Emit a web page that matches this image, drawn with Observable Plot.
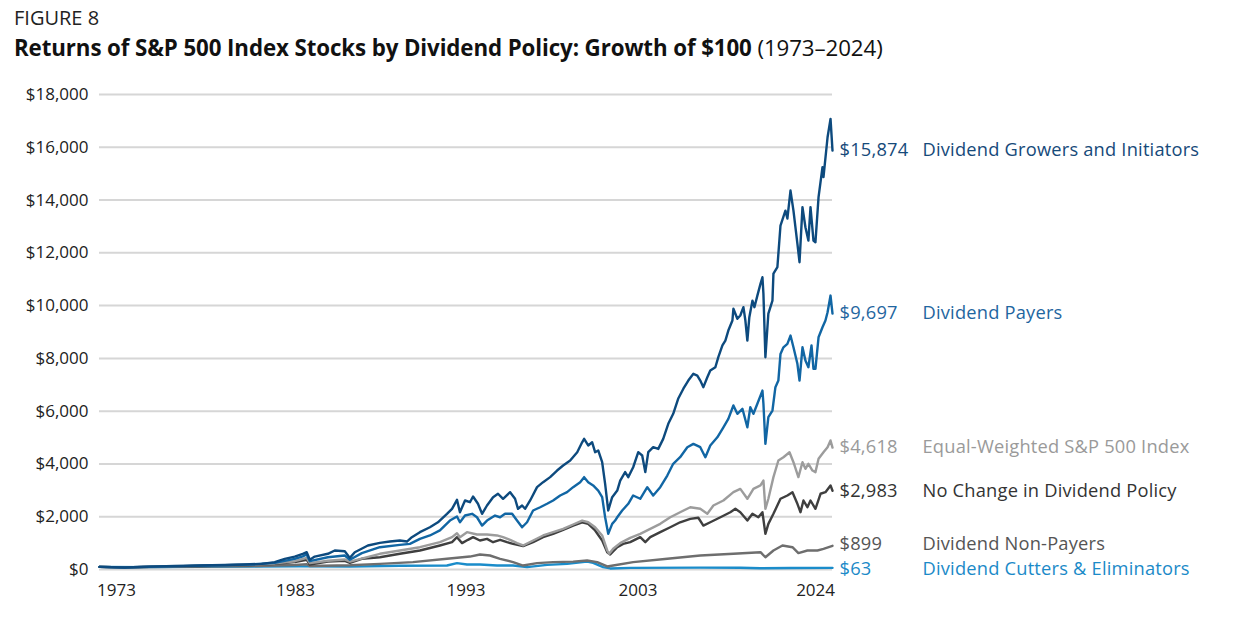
<!DOCTYPE html>
<html><head><meta charset="utf-8">
<script src="https://cdn.jsdelivr.net/npm/d3@7"></script>
<script src="https://cdn.jsdelivr.net/npm/@observablehq/plot@0.6"></script>
<style>
html,body{margin:0;padding:0;background:#fff;}
body{font-family:"Open Sans",sans-serif;width:1236px;height:617px;overflow:hidden;position:relative;}
#fig{position:absolute;left:14px;top:4px;font-size:20px;color:#222;white-space:nowrap;}
#title{position:absolute;left:14px;top:32px;font-size:22.3px;color:#111;white-space:nowrap;letter-spacing:-0.1px;}
#title b{font-weight:700;}
#chart{position:absolute;left:0;top:70px;}
#chart g[aria-label="text"] text{letter-spacing:0.2px;}
</style></head><body>
<div id="fig">FIGURE 8</div>
<div id="title"><b>Returns of S&amp;P 500 Index Stocks by Dividend Policy: Growth of $100</b> (1973–2024)</div>
<div id="chart"></div>
<script>
// ---- data ----
const seriesNames = ["Dividend Growers and Initiators","Dividend Payers","Equal-Weighted S&P 500 Index","No Change in Dividend Policy","Dividend Non-Payers","Dividend Cutters & Eliminators"];
const finalValues = [15874, 9697, 4618, 2983, 899, 63];
const yTicks = [0,2000,4000,6000,8000,10000,12000,14000,16000,18000];
const xTickLabels = ["1973","1983","1993","2003","2024"];
const xTickAt = [1974.2, 1986.9, 1999.0, 2011.2, 2023.8];

const growersYears = [1973.00,1974.78,1976.55,1978.33,1980.10,1981.88,1983.66,1984.51,1985.43,1986.14,1986.85,1987.42,1987.70,1987.92,1988.27,1989.20,1989.69,1990.40,1990.76,1991.11,1992.04,1992.89,1993.60,1994.31,1994.81,1995.16,1995.73,1996.44,1997.01,1997.65,1998.01,1998.36,1998.57,1998.93,1999.28,1999.50,1999.85,2000.14,2000.49,2000.92,2001.27,2001.63,2002.13,2002.48,2002.69,2002.98,2003.19,2003.55,2004.04,2004.47,2004.97,2005.46,2005.89,2006.39,2006.89,2007.24,2007.38,2007.67,2007.95,2008.16,2008.38,2008.66,2008.87,2009.09,2009.37,2009.73,2009.94,2010.29,2010.51,2010.86,2011.22,2011.50,2011.72,2011.93,2012.28,2012.64,2012.99,2013.35,2013.70,2014.05,2014.42,2014.77,2015.13,2015.41,2015.62,2015.84,2016.12,2016.33,2016.69,2016.90,2017.19,2017.40,2017.61,2017.90,2017.97,2018.25,2018.46,2018.68,2018.82,2018.96,2019.10,2019.32,2019.46,2019.67,2019.89,2020.03,2020.10,2020.24,2020.45,2020.74,2020.81,2021.09,2021.31,2021.66,2021.80,2022.02,2022.23,2022.51,2022.66,2022.87,2023.08,2023.29,2023.44,2023.65,2023.79,2024.01,2024.29,2024.36,2024.65,2024.86,2025.00];
const growersValues = [100,75,110,130,150,170,200,215,280,405,490,595,655,370,490,595,720,690,440,655,910,1010,1060,1100,1060,1225,1415,1600,1790,2110,2300,2640,2170,2615,2550,2765,2490,2110,2425,2740,2870,2680,2930,2680,2300,2425,2300,2615,3120,3310,3500,3750,3940,4130,4445,4820,4950,4700,4820,4445,4510,4065,3245,2235,2740,2990,3370,3690,3500,3875,4445,4320,3690,4445,4635,4570,4950,5520,5900,6470,6850,7160,7415,7350,7160,6910,7285,7540,7665,8045,8490,8675,9055,9435,9880,9500,9625,9940,9435,8675,9560,10190,9940,10380,10825,11075,10445,8045,9700,10190,11210,11455,13035,13600,13300,14360,13600,12350,11645,13730,12970,12465,13730,12465,12400,14110,15245,14870,16380,17075,15874];

const payersYears = [1973.00,1974.78,1976.55,1978.33,1980.10,1981.88,1983.66,1985.43,1986.85,1987.42,1987.70,1987.92,1989.20,1990.40,1990.76,1991.61,1992.89,1994.31,1995.02,1995.73,1996.44,1997.15,1997.86,1998.36,1998.57,1998.93,1999.43,1999.78,2000.14,2000.49,2001.06,2001.42,2001.77,2002.27,2002.62,2002.98,2003.33,2003.76,2004.26,2004.75,2005.18,2005.68,2006.17,2006.60,2007.10,2007.38,2007.67,2008.02,2008.38,2008.66,2008.87,2009.09,2009.37,2009.58,2009.73,2010.08,2010.51,2010.86,2011.36,2011.86,2012.28,2012.78,2013.28,2013.70,2014.19,2014.70,2015.13,2015.62,2015.98,2016.33,2016.83,2017.26,2017.61,2017.97,2018.25,2018.61,2018.96,2019.17,2019.39,2019.67,2020.03,2020.10,2020.24,2020.45,2020.74,2020.95,2021.16,2021.31,2021.52,2021.80,2022.02,2022.23,2022.51,2022.66,2022.87,2023.08,2023.29,2023.51,2023.65,2023.79,2024.01,2024.29,2024.50,2024.65,2024.86,2025.00];
const payersValues = [100,75,105,120,140,160,185,250,405,500,570,315,465,530,370,620,845,935,970,1160,1290,1480,1855,2010,1790,2045,2110,1980,1665,1855,2045,1980,2110,2110,1855,1600,1790,2235,2360,2490,2615,2805,2930,3120,3310,3500,3310,3185,2990,2740,1980,1350,1730,1855,1980,2235,2490,2805,2680,3120,2805,3120,3560,4005,4255,4635,4760,4635,4255,4700,5010,5390,5710,6215,5900,6090,5390,6150,5900,6280,6780,6280,4760,5770,6025,6910,7160,8170,8420,8550,8865,8420,7795,7160,8420,7920,7665,8490,7605,7605,8800,9180,9435,9750,10380,9697];

const equalYears = [1973.00,1974.78,1976.55,1978.33,1980.10,1981.88,1983.66,1985.43,1986.85,1987.70,1987.92,1989.20,1990.40,1990.76,1992.89,1994.31,1995.73,1997.15,1998.01,1998.36,1998.57,1999.07,1999.78,2000.49,2001.20,2001.63,2002.13,2002.62,2003.05,2003.76,2004.47,2005.18,2005.89,2006.60,2007.24,2007.67,2008.16,2008.66,2009.02,2009.16,2009.44,2009.94,2010.65,2011.36,2012.07,2012.78,2013.49,2014.19,2014.91,2015.62,2016.12,2016.55,2017.26,2017.97,2018.46,2018.96,2019.39,2019.89,2020.10,2020.24,2020.45,2020.81,2021.16,2021.52,2021.95,2022.23,2022.58,2022.87,2023.08,2023.29,2023.58,2023.79,2024.01,2024.36,2024.65,2024.86,2025.00];
const equalValues = [100,80,105,120,140,160,180,230,315,440,240,330,380,300,595,720,845,1035,1225,1375,1225,1415,1325,1325,1290,1225,1125,1000,910,1100,1290,1415,1540,1705,1855,1790,1600,1290,720,595,785,1000,1200,1350,1540,1730,1980,2170,2360,2300,2110,2425,2615,2930,3055,2680,3055,3185,3370,2300,2680,3500,4130,4255,4445,4065,3500,4065,3815,4005,3750,3690,4195,4445,4635,4890,4618];

const noChangeYears = [1973.00,1974.78,1976.55,1978.33,1980.10,1981.88,1983.66,1985.43,1986.85,1987.70,1987.92,1989.20,1990.40,1990.76,1991.61,1992.89,1994.31,1995.73,1997.15,1998.01,1998.36,1998.72,1999.14,1999.50,1999.99,2000.49,2000.92,2001.42,2001.91,2002.34,2003.05,2003.76,2004.47,2005.18,2005.89,2006.60,2007.24,2007.67,2008.16,2008.66,2009.02,2009.23,2009.73,2010.15,2010.65,2011.36,2011.72,2012.07,2012.78,2013.49,2014.19,2014.91,2015.48,2015.84,2016.33,2017.05,2017.75,2018.11,2018.46,2018.96,2019.32,2019.74,2020.03,2020.24,2020.45,2020.81,2021.31,2021.80,2022.16,2022.51,2022.73,2022.94,2023.22,2023.44,2023.79,2024.15,2024.50,2024.86,2025.00];
const noChangeValues = [100,80,100,115,130,150,170,220,280,370,190,300,330,250,405,465,595,720,910,1035,1225,1000,1125,1225,1100,1160,1035,1125,1035,970,885,1035,1225,1350,1505,1665,1790,1730,1480,1100,655,570,845,970,1035,1225,1035,1225,1415,1600,1790,1920,1960,1665,1790,1980,2170,2300,2170,1855,2110,1980,2170,1350,1730,2110,2680,2805,2930,2490,2170,2615,2360,2615,2300,2870,2930,3185,2983];

const nonPayersYears = [1973.00,1974.78,1976.55,1978.33,1980.10,1983.66,1986.85,1987.70,1987.92,1990.76,1992.89,1995.23,1997.65,1999.28,1999.99,2000.70,2001.42,2002.34,2003.05,2004.04,2005.18,2006.60,2007.59,2008.31,2009.02,2009.44,2010.86,2013.28,2015.62,2017.97,2019.89,2020.24,2020.81,2021.45,2022.16,2022.58,2023.22,2023.93,2024.36,2025.00];
const nonPayersValues = [100,80,95,100,110,130,170,200,130,160,215,280,405,490,570,530,405,280,150,240,280,300,340,280,115,150,280,405,530,595,655,465,720,910,845,620,720,720,785,899];

const cuttersYears = [1973.00,1976.55,1980.10,1983.66,1987.21,1990.76,1994.31,1997.65,1998.36,1999.07,1999.99,2001.20,2002.34,2003.33,2004.75,2006.17,2007.59,2008.02,2008.73,2009.23,2010.65,2015.62,2018.46,2019.89,2022.02,2025.00];
const cuttersValues = [100,90,100,110,120,110,140,150,240,190,190,150,150,90,175,215,300,250,90,40,60,70,65,45,55,63];

// ---- styles ----
const colors = ["#0d4a7e","#1166a4","#9c9c9c","#3f3f3f","#6e6e6e","#1a8cca"];
const labelColors = ["#164a7a","#1f66a0","#9a9a9a","#333333","#555555","#1b8ac8"];
const labelShift = [0,0,0,0,-1.5,1.5];

const allYears = [growersYears,payersYears,equalYears,noChangeYears,nonPayersYears,cuttersYears];
const allValues = [growersValues,payersValues,equalValues,noChangeValues,nonPayersValues,cuttersValues];

const rows = seriesNames.map((name,i)=>allYears[i].map((t,j)=>({series:name,t,v:allValues[i][j]})));
const money = d => "$" + d3.format(",")(d);

const drawOrder = [5,4,3,2,1,0];
const marks = [
  Plot.ruleY(yTicks, {stroke:"#d6d6d6", strokeWidth:2}),
  Plot.axisY(yTicks, {tickSize:0, tickPadding:11, tickFormat:money, fontSize:17, fill:"#222", label:null}),
  Plot.axisX(xTickAt, {tickSize:0, tickPadding:14, tickFormat:d=>xTickLabels[xTickAt.indexOf(d)], fontSize:17, fill:"#222", label:null}),
  ...drawOrder.map(i=>Plot.line(rows[i], {x:"t", y:"v", stroke:colors[i], strokeWidth:2.4, strokeLinejoin:"round"})),
  ...seriesNames.map((name,i)=>Plot.text([{t:2025, v:finalValues[i]}], {x:"t", y:"v", text:d=>money(d.v), dx:7, dy:labelShift[i], textAnchor:"start", fill:labelColors[i], fontSize:18.3})),
  ...seriesNames.map((name,i)=>Plot.text([{t:2025, v:finalValues[i], name}], {x:"t", y:"v", text:"name", dx:90, dy:labelShift[i], textAnchor:"start", fill:labelColors[i], fontSize:18.3}))
];

const chart = Plot.plot({
  width:1236, height:547,
  marginLeft:99, marginRight:404, marginTop:24, marginBottom:48,
  style:{fontFamily:"'Open Sans', sans-serif", fontSize:"17px", background:"transparent", color:"#222"},
  x:{domain:[1973,2025], axis:null},
  y:{domain:[0,18000], axis:null},
  marks
});
document.getElementById("chart").appendChild(chart);
</script>
</body></html>
